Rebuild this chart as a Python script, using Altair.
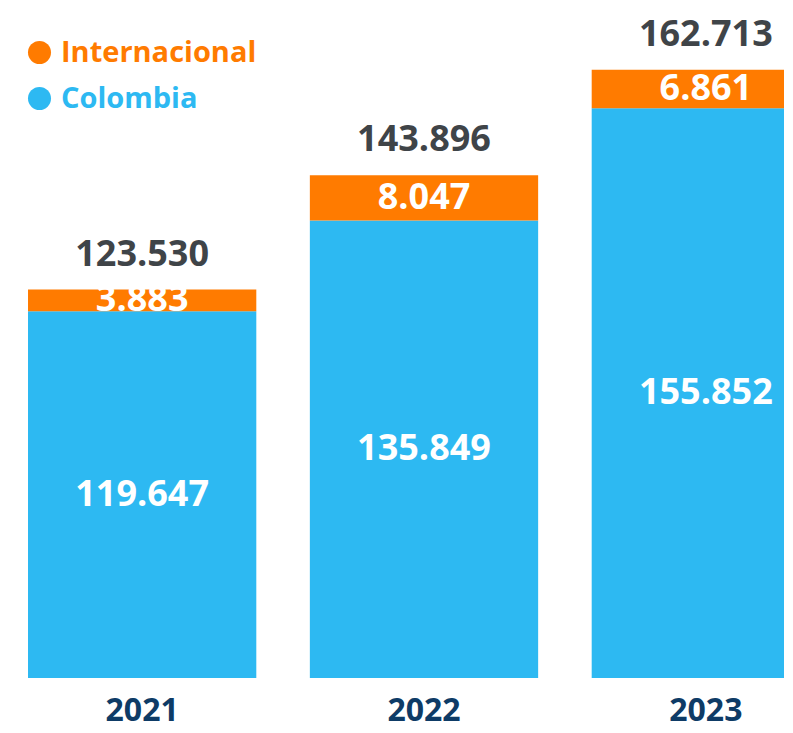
import altair as alt
import pandas as pd

years = ["2021", "2022", "2023"]
colombia = [119647, 135849, 155852]
internacional = [3883, 8047, 6861]
totals = [123530, 143896, 162713]
series = ["Internacional", "Colombia"]
colors = ["#FF7B00", "#2DB9F2"]

Y_MIN, Y_MAX = 54300, 173700


def fmt(v):
    return f"{v:,}".replace(",", ".")


rows = []
for yr, c, i in zip(years, colombia, internacional):
    rows.append({"year": yr, "serie": "Colombia", "value": c, "ord": 0})
    rows.append({"year": yr, "serie": "Internacional", "value": i, "ord": 1})
bars_df = pd.DataFrame(rows)

lab_df = pd.DataFrame({
    "year": years,
    "col_mid": [(Y_MIN + c) / 2 for c in colombia],
    "col_lab": [fmt(c) for c in colombia],
    "int_mid": [c + i / 2 for c, i in zip(colombia, internacional)],
    "int_lab": [fmt(i) for i in internacional],
    "total": totals,
    "tot_lab": [fmt(t) for t in totals],
})

xscale = alt.Scale(domain=years, range=[0, 832], paddingInner=0.19, paddingOuter=0.071)
yscale = alt.Scale(domain=[Y_MIN, Y_MAX], zero=False, nice=False)

x = alt.X("year:N", scale=xscale, sort=years,
          axis=alt.Axis(title=None, ticks=False, domain=False, labelAngle=0,
                        labelFont="Open Sans", labelFontSize=32,
                        labelFontWeight="bold", labelColor="#0E3B66", labelPadding=17))

bars = alt.Chart(bars_df).mark_bar(clip=True).encode(
    x=x,
    y=alt.Y("value:Q", stack="zero", scale=yscale, axis=None),
    color=alt.Color("serie:N", scale=alt.Scale(domain=series, range=colors),
                    legend=alt.Legend(
                        orient="none", legendX=17, legendY=30, direction="vertical",
                        title=None, symbolType="circle", symbolSize=530,
                        symbolStrokeWidth=0, symbolOpacity=1,
                        labelFont="Open Sans", labelFontSize=29, labelLimit=400,
                        labelFontWeight="bold", labelOffset=7, rowPadding=16,
                        padding=0,
                        labelColor={"expr": "datum.label == 'Internacional' ? '#FF7B00' : '#2DB9F2'"})),
    order=alt.Order("ord:Q", sort="ascending"),
)

base = alt.Chart(lab_df)
num_font = dict(font="Open Sans", fontSize=36, fontWeight="bold", baseline="middle", align="center")

col_text = base.mark_text(color="white", **num_font).encode(
    x=alt.X("year:N", scale=xscale, sort=years),
    y=alt.Y("col_mid:Q", scale=yscale), text="col_lab:N")
int_text = base.mark_text(color="white", **num_font).encode(
    x=alt.X("year:N", scale=xscale, sort=years),
    y=alt.Y("int_mid:Q", scale=yscale), text="int_lab:N")
tot_text = base.mark_text(color="#3F4448", dy=-35, **num_font).encode(
    x=alt.X("year:N", scale=xscale, sort=years),
    y=alt.Y("total:Q", scale=yscale), text="tot_lab:N")

chart = alt.layer(bars, col_text, int_text, tot_text).properties(
    width=776, height=670,
    autosize=alt.AutoSizeParams(type="none"),
    padding={"left": 0, "top": 0, "right": 0, "bottom": 46},
).configure_view(stroke=None)

chart.save("out.html", embed_options={"renderer": "svg", "actions": False})
